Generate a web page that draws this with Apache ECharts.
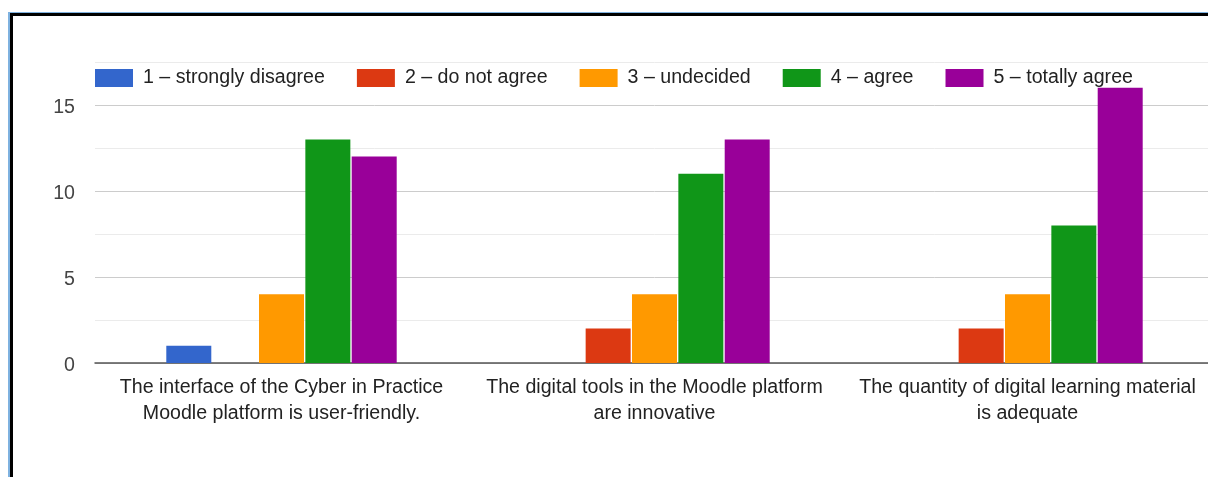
<!DOCTYPE html>
<html>
<head>
<meta charset="utf-8">
<script src="https://cdn.jsdelivr.net/npm/echarts@6/dist/echarts.min.js"></script>
<style>
html,body{margin:0;padding:0;background:#fff;overflow:hidden;width:1208px;height:477px;}
#chart{position:absolute;left:0;top:0;width:1222px;height:477px;}
#b1{position:absolute;left:8px;top:12px;right:0;bottom:0;border-left:2px solid #7fb2e0;border-top:1px solid #7fb2e0;pointer-events:none;}
#b2{position:absolute;left:10px;top:13px;right:0;bottom:0;border-left:3px solid #000;border-top:3px solid #000;pointer-events:none;}
</style>
</head>
<body>
<div id="chart"></div>
<div id="b1"></div>
<div id="b2"></div>
<script>
const categories = [
  "The interface of the Cyber in Practice\nMoodle platform is user-friendly.",
  "The digital tools in the Moodle platform\nare innovative",
  "The quantity of digital learning material\nis adequate"
];
const seriesNames = ["1 – strongly disagree", "2 – do not agree", "3 – undecided", "4 – agree", "5 – totally agree"];
const stronglyDisagree = [1, 0, 0];
const doNotAgree = [0, 2, 2];
const undecided = [4, 4, 4];
const agree = [13, 11, 8];
const totallyAgree = [12, 13, 16];
const colors = ["#3366cc", "#dc3912", "#ff9900", "#109618", "#990099"];
const values = [stronglyDisagree, doNotAgree, undecided, agree, totallyAgree];

const chart = echarts.init(document.getElementById('chart'));
const font = "'Liberation Sans', Arial, sans-serif";
chart.setOption({
  backgroundColor: 'transparent',
  animation: false,
  textStyle: {fontFamily: font},
  legend: {
    left: 95, top: 68, padding: 0,
    itemWidth: 38, itemHeight: 18, itemGap: 32,
    icon: 'rect',
    textStyle: {fontSize: 19.6, color: '#222', fontFamily: font, padding: [0, 0, 0, 5]},
    data: seriesNames
  },
  grid: {left: 95, width: 1119, top: 62, bottom: 114, containLabel: false},
  xAxis: {
    type: 'category',
    data: categories,
    axisTick: {show: false},
    axisLine: {lineStyle: {color: '#555', width: 1.5}},
    axisLabel: {fontSize: 19.6, color: '#222', lineHeight: 26, margin: 12, fontFamily: font, interval: 0}
  },
  yAxis: {
    type: 'value', min: 0, max: 17.5, interval: 2.5,
    axisLine: {show: false}, axisTick: {show: false},
    axisLabel: {
      fontSize: 19.6, color: '#444', margin: 20, fontFamily: font,
      formatter: v => (v % 5 === 0 ? '{a|' + v + '}' : ''),
      rich: {a: {fontSize: 19.6, color: '#444', fontFamily: font, padding: [5, 0, 0, 0]}}
    },
    splitLine: {lineStyle: {color: ['#cccccc', '#ebebeb'], width: 1}}
  },
  series: seriesNames.map((n, i) => ({
    name: n, type: 'bar', data: values[i],
    barWidth: 45, barGap: '3%',
    itemStyle: {color: colors[i]}
  }))
});
</script>
</body>
</html>
